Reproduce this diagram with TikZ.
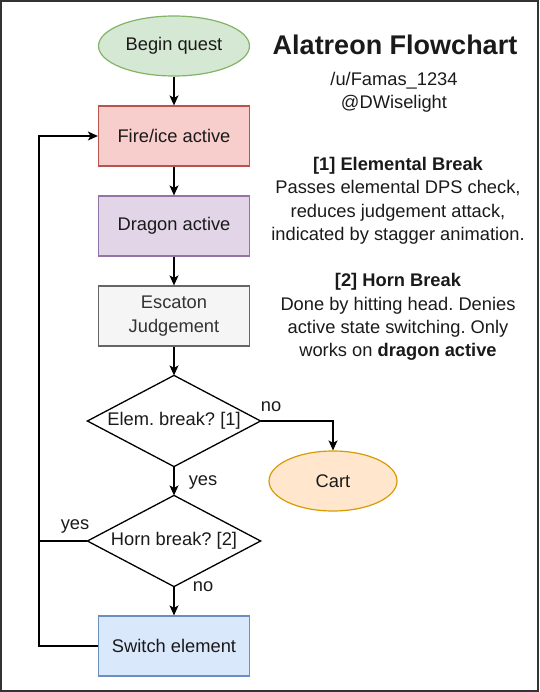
\documentclass[tikz,border=0pt]{standalone}
\usepackage{fontspec}
\setmainfont{Liberation Sans}
\usetikzlibrary{shapes.geometric,arrows.meta}
\frenchspacing
\definecolor{gfill}{HTML}{D5E8D4}\definecolor{gline}{HTML}{82B366}
\definecolor{rfill}{HTML}{F8CECC}\definecolor{rline}{HTML}{B85450}
\definecolor{pfill}{HTML}{E1D5E7}\definecolor{pline}{HTML}{9673A6}
\definecolor{kfill}{HTML}{F5F5F5}\definecolor{kline}{HTML}{666666}\definecolor{ktext}{HTML}{333333}
\definecolor{ofill}{HTML}{FFE6CC}\definecolor{oline}{HTML}{D79B00}
\definecolor{bfill}{HTML}{DAE8FC}\definecolor{bline}{HTML}{6C8EBF}
\definecolor{frame}{HTML}{333333}
\definecolor{txt}{HTML}{1A1A1A}
\tikzset{
  base/.style={inner sep=0pt, line width=1.2pt, align=center},
  boxnode/.style={base, rectangle, minimum width=151pt, minimum height=60pt},
  ovalnode/.style={base, ellipse, minimum width=151pt, minimum height=60pt},
  decnode/.style={base, rectangle, minimum width=172pt, minimum height=90pt},
  conn/.style={line width=1.3pt, -{Stealth[length=10pt,width=9pt,inset=2.5pt]}},
  plain/.style={line width=1.3pt},
  lbl/.style={inner sep=0pt},
}
\begin{document}
\begin{tikzpicture}[x=1pt,y=-1pt,font=\fontsize{18.3}{23.3}\selectfont\frenchspacing,text=txt]
\useasboundingbox (0,0) rectangle (539,692);
\draw[frame, line width=2pt] (1,1) rectangle (538,691);
% nodes
\node[ovalnode, draw=gline, fill=gfill] (begin) at (174,46) {Begin quest};
\node[boxnode, draw=rline, fill=rfill] (fire) at (174,136) {Fire/ice active};
\node[boxnode, draw=pline, fill=pfill] (dragon) at (174,226) {Dragon active};
\node[boxnode, draw=kline, fill=kfill, text=ktext] (escaton) at (174,316) {Escaton\\Judgement};
\node[decnode] (elem) at (174,421) {};
\draw[plain] (elem.north) -- (elem.east) -- (elem.south) -- (elem.west) -- cycle;
\node at (elem.center) {Elem. break? [1]};
\node[decnode] (horn) at (174,541) {};
\draw[plain] (horn.north) -- (horn.east) -- (horn.south) -- (horn.west) -- cycle;
\node at (horn.center) {Horn break? [2]};
\node[ovalnode, minimum width=128pt, draw=oline, fill=ofill] (cart) at (333,481) {Cart};
\node[boxnode, draw=bline, fill=bfill] (switch) at (174,646) {Switch element};
\coordinate (loopb) at (39,646);
\coordinate (loopm) at (39,541);
% connectors
\draw[conn] (begin) -- (fire);
\draw[conn] (fire) -- (dragon);
\draw[conn] (dragon) -- (escaton);
\draw[conn] (escaton) -- (elem.north);
\draw[conn] (elem.south) -- (horn.north);
\draw[conn] (horn.south) -- (switch);
\draw[conn] (elem.east) -| (cart.north);
\draw[conn] (switch.west) -- (loopb) |- (fire.west);
\draw[plain] (horn.west) -- (loopm);
% edge labels
\node[lbl] (l1) at (271,407) {no};
\node[lbl] (l2) at (203,482) {yes};
\node[lbl] (l3) at (203,587) {no};
\node[lbl] (l4) at (75,526) {yes};
% text block
\node (title) at (395,45) {\fontsize{27}{30}\selectfont\bfseries Alatreon Flowchart};
\node[align=center] (author) at (394,92) {/u/Famas\_1234\\ @DWiselight};
\node[align=center] (notes) at (398,259) {%
\textbf{[1] Elemental Break}\\
Passes elemental DPS check,\\
reduces judgement attack,\\
indicated by stagger animation.\\[23.3pt]
\textbf{[2] Horn Break}\\
Done by hitting head. Denies\\
active state switching. Only\\
works on \textbf{dragon active}};
\end{tikzpicture}
\end{document}
